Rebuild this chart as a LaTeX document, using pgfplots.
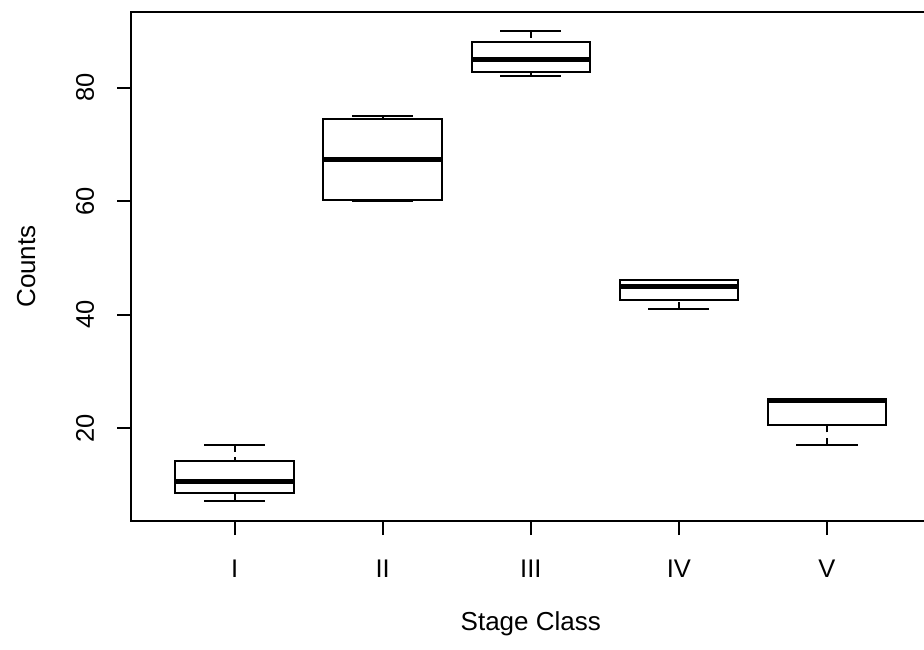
\documentclass[border=0pt]{standalone}
\usepackage{pgfplots}
\pgfplotsset{compat=1.18}
\usepackage{fontspec}
\setmainfont{Liberation Sans}
\begin{document}
\begin{tikzpicture}
\begin{axis}[
  scale only axis,
  width=399.8pt, height=254.5pt,
  xmin=0.3, xmax=5.7, ymin=3.68, ymax=93.32,
  unbounded coords=jump,
  xtick={1,2,3,4,5},
  xticklabels={I, II, III, IV, V},
  ytick={20,40,60,80},
  tick pos=left, tick align=outside,
  major tick length=7pt,
  every tick/.style={black, line width=1pt},
  axis line style={line width=1pt},
  /pgf/number format/assume math mode=true,
  yticklabel style={xshift=-11.5pt, rotate=90, anchor=base, font=\fontsize{12.75}{14}\selectfont},
  xticklabel style={anchor=base, yshift=-21pt, font=\fontsize{12.75}{14}\selectfont},
  xlabel={Stage Class},
  ylabel={Counts},
  xlabel style={at={(axis description cs:0.5,-0.216)}, anchor=base, font=\fontsize{13}{15}\selectfont},
  ylabel style={at={(axis description cs:-0.12,0.5)}, anchor=base, rotate=0, font=\fontsize{13}{15}\selectfont},
  box/.style={black, line width=1pt, line join=miter, line cap=rect},
  whisk/.style={black, line width=1pt, dash pattern=on 3.5pt off 2.75pt},
  med/.style={black, line width=2.6pt, line cap=butt},
]
% Stage I
\addplot[box] coordinates {(0.6,8.6) (1.4,8.6) (1.4,14.2) (0.6,14.2) (0.6,8.6) (1,nan) (0.8,7.2) (1.2,7.2) (1,nan) (0.8,17.1) (1.2,17.1)};
\addplot[whisk] coordinates {(1,17.1) (1,14.2) (1,nan) (1,7.2) (1,8.6)};
\addplot[med] coordinates {(0.6,10.7) (1.4,10.7)};
% Stage II
\addplot[box] coordinates {(1.6,60.3) (2.4,60.3) (2.4,74.4) (1.6,74.4) (1.6,60.3) (2,nan) (1.8,60) (2.2,60) (2,nan) (1.8,75) (2.2,75)};
\addplot[whisk] coordinates {(2,75) (2,74.4) (2,nan) (2,60) (2,60.3)};
\addplot[med] coordinates {(1.6,67.4) (2.4,67.4)};
% Stage III
\addplot[box] coordinates {(2.6,82.8) (3.4,82.8) (3.4,88) (2.6,88) (2.6,82.8) (3,nan) (2.8,82) (3.2,82) (3,nan) (2.8,90) (3.2,90)};
\addplot[whisk] coordinates {(3,90) (3,88) (3,nan) (3,82) (3,82.8)};
\addplot[med] coordinates {(2.6,85) (3.4,85)};
% Stage IV
\addplot[box] coordinates {(3.6,42.6) (4.4,42.6) (4.4,46.1) (3.6,46.1) (3.6,42.6) (4,nan) (3.8,41) (4.2,41) (4,nan) (3.8,46.1) (4.2,46.1)};
\addplot[whisk] coordinates {(4,41) (4,42.6)};
\addplot[med] coordinates {(3.6,45) (4.4,45)};
% Stage V
\addplot[box] coordinates {(4.6,20.6) (5.4,20.6) (5.4,25.2) (4.6,25.2) (4.6,20.6) (5,nan) (4.8,17.1) (5.2,17.1) (5,nan) (4.8,25.2) (5.2,25.2)};
\addplot[whisk] coordinates {(5,17.1) (5,20.6)};
\addplot[med] coordinates {(4.6,24.9) (5.4,24.9)};
\end{axis}
\pgfresetboundingbox
\path[use as bounding box] (-65.5pt,-64pt) rectangle (396.5pt,260.5pt);
\end{tikzpicture}
\end{document}
